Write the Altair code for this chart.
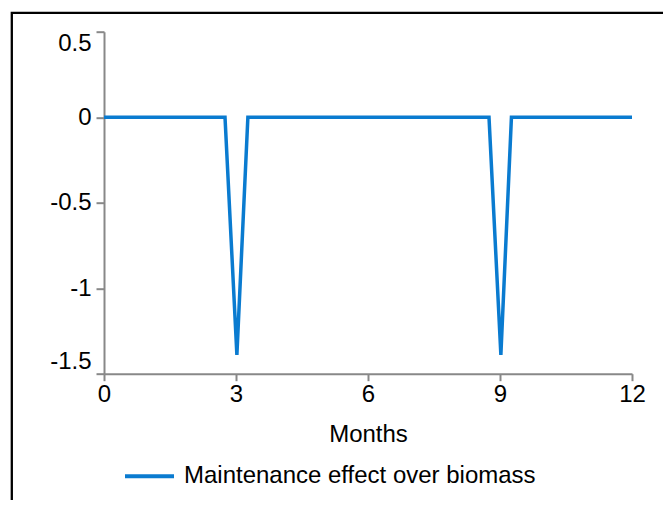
import altair as alt
import pandas as pd

# Data
months = [0, 2.75, 3.02, 3.27, 8.75, 9.02, 9.26, 12]
effect = [0, 0, -1.39, 0, 0, -1.39, 0, 0]
series_name = "Maintenance effect over biomass"
x_ticks = [0, 3, 6, 9, 12]
y_ticks = [0.5, 0, -0.5, -1, -1.5]

df = pd.DataFrame({
    "Months": months,
    "Effect": effect,
    "Series": [series_name] * len(months),
})

FONT = "Liberation Sans"
LINE_COLOR = "#0a7bd0"
FS = 24

line = alt.Chart(df).mark_line(strokeWidth=3.5).encode(
    x=alt.X(
        "Months:Q",
        scale=alt.Scale(domain=[0, 12], nice=False),
        axis=alt.Axis(
            values=x_ticks, title="Months", labelExpr="'' + datum.value",
            labelFlush=False, tickSize=7, labelPadding=2, titlePadding=16,
        ),
    ),
    y=alt.Y(
        "Effect:Q",
        scale=alt.Scale(domain=[-1.5, 0.5], nice=False, zero=False),
        axis=alt.Axis(
            values=y_ticks, title=None, labelExpr="'' + datum.value",
            labelFlush=True, tickSize=8, labelPadding=5,
        ),
    ),
    color=alt.Color(
        "Series:N",
        scale=alt.Scale(domain=[series_name], range=[LINE_COLOR]),
        legend=alt.Legend(
            title=None, orient="none", legendX=19, legendY=418,
            symbolType="stroke", symbolSize=2401, symbolStrokeWidth=4,
            labelFontSize=FS, labelFont=FONT, labelColor="black",
            labelOffset=8, padding=0, labelLimit=600,
        ),
    ),
)

frame = alt.Chart(pd.DataFrame({"k": [0]})).mark_rect(
    fillOpacity=0, stroke="black", strokeWidth=2.3
).encode(
    x=alt.value(-92.2), x2=alt.value(650),
    y=alt.value(-18.9), y2=alt.value(540),
)

chart = alt.layer(frame, line).properties(
    width=528, height=342,
    autosize=alt.AutoSizeParams(type="none"),
    padding={"left": 96, "top": 23.7, "right": 31, "bottom": 126},
).configure_axis(
    labelFont=FONT, labelFontSize=FS, labelColor="black",
    titleFont=FONT, titleFontSize=FS, titleFontWeight="normal", titleColor="black",
    domainColor="#888888", tickColor="#888888", domainWidth=2, tickWidth=2,
    grid=False,
).configure_view(strokeWidth=0)

chart.save("out.html", embed_options={"renderer": "svg", "actions": False})
